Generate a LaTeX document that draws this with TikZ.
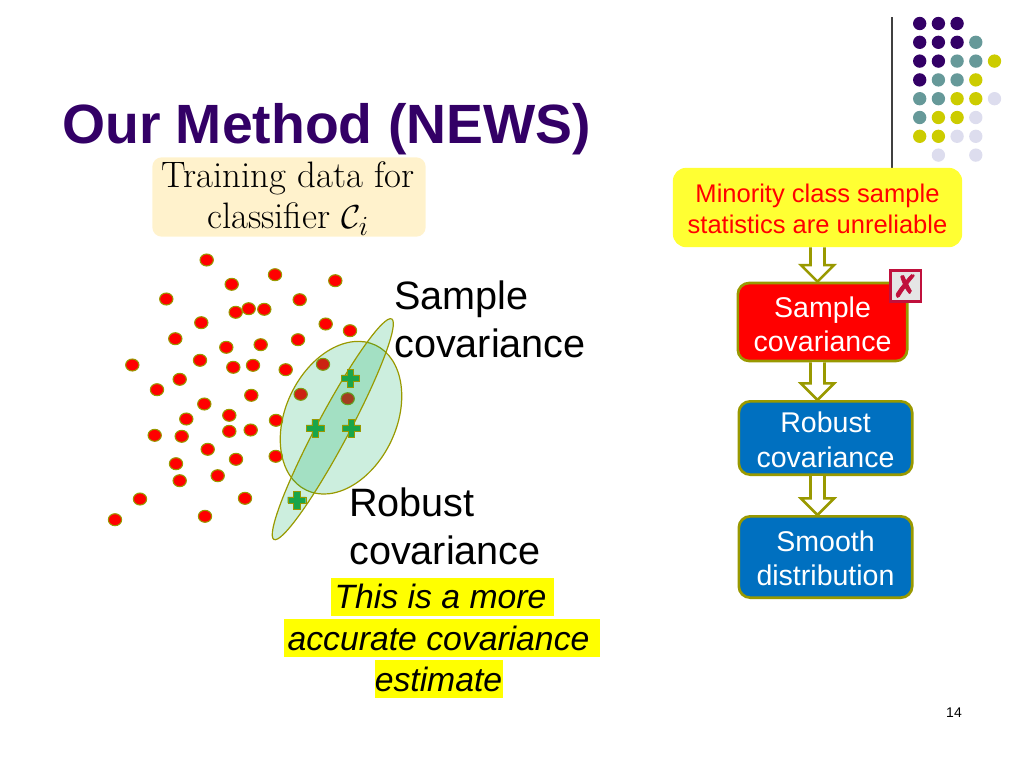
\documentclass[tikz,border=0pt]{standalone}
\usepackage{amsmath}
\usepackage{amssymb}
\usepackage{fontspec}
\setmainfont{Liberation Sans}
\newfontfamily\symbfont[FakeBold=2.5]{DejaVu Sans}
\usetikzlibrary{shapes,calc}
\usepackage{xcolor}
\definecolor{newspurple}{RGB}{51,0,102}
\definecolor{newsteal}{RGB}{102,153,153}
\definecolor{newsolive}{RGB}{204,204,0}
\definecolor{newslilac}{RGB}{221,221,238}
\definecolor{newsedge}{RGB}{153,153,0}
\definecolor{newsblue}{RGB}{0,112,192}
\definecolor{newscream}{RGB}{255,242,204}
\definecolor{newsgreen}{RGB}{0,170,90}
\definecolor{newsplus}{RGB}{25,165,75}
\definecolor{newscrimson}{RGB}{192,16,60}
\definecolor{newsyellow}{RGB}{255,255,51}
\definecolor{newsmark}{RGB}{255,255,0}
\definecolor{newsred}{RGB}{255,0,0}
\tikzset{
  spot/.style={circle,fill=#1,minimum size=10pt,inner sep=0pt},
  reddot/.style={ellipse,fill=newsred,draw=newsedge,line width=0.8pt,minimum width=10pt,minimum height=9pt,inner sep=0pt},
  covar/.style={ellipse,draw=newsedge,fill=newsgreen,fill opacity=0.2,line width=0.9pt,inner sep=0pt},
  plusmark/.style={draw=newsedge,fill=newsplus,line width=0.3pt},
  flowbox/.style={rounded corners=8.5pt,draw=newsedge,line width=2pt,text=white,align=center,font=\fontsize{21.4}{25.8}\selectfont},
  blockarrow/.style={draw=newsedge,fill=white,line width=1.9pt,
    to path={let \p1=(\tikztostart),\p2=(\tikztotarget) in
      (\x1-5.25pt,\y1) -- (\x1-5.25pt,\y2+12.4pt) -- (\x1-12.4pt,\y2+12.4pt) -- (\x1,\y2) --
      (\x1+12.4pt,\y2+12.4pt) -- (\x1+5.25pt,\y2+12.4pt) -- (\x1+5.25pt,\y1)}},
  bigtext/.style={align=left,anchor=north west,inner sep=0pt,font=\fontsize{29.7}{36}\selectfont},
  hilite/.style={fill=newsmark,inner sep=0pt,minimum height=28.5pt,font=\itshape\fontsize{25.3}{25.3}\selectfont}
}
\begin{document}
\begin{tikzpicture}[x=0.75pt,y=-0.75pt]
\useasboundingbox (0,0) rectangle (1024,768);

% Corner decoration
\draw[black!75,line width=0.9pt] (892,17) -- (892,168);
\foreach \c/\r/\shade in {
  0/0/newspurple,1/0/newspurple,2/0/newspurple,
  0/1/newspurple,1/1/newspurple,2/1/newspurple,3/1/newsteal,
  0/2/newspurple,1/2/newspurple,2/2/newsteal,3/2/newsteal,4/2/newsolive,
  0/3/newspurple,1/3/newsteal,2/3/newsteal,3/3/newsolive,
  0/4/newsteal,1/4/newsteal,2/4/newsolive,3/4/newsolive,4/4/newslilac,
  0/5/newsteal,1/5/newsolive,2/5/newsolive,3/5/newslilac,
  0/6/newsolive,1/6/newsolive,2/6/newslilac,3/6/newslilac,
  1/7/newslilac,3/7/newslilac}
  \node[spot=\shade] (spot\c\r) at (919.7+18.7*\c,23.5+18.8*\r) {};

% Title
\node[anchor=west,inner sep=0pt,text=newspurple,font=\bfseries\fontsize{41.5}{46}\selectfont] (title) at (62,129) {Our Method (NEWS)};

% Training data label
\node[fill=newscream,rounded corners=7pt,minimum width=205pt,minimum height=59.5pt,inner sep=0pt] (training) at (289,197) {};
\node[align=center,inner sep=0pt,font=\rmfamily\fontspec{Latin Modern Roman}\fontsize{27.6}{31}\selectfont] (trainingtext) at (288,198.5) {Training data for\\classifier $\mathcal{C}_i$};

% Scatter of points
\foreach \px/\py [count=\i] in {206.7/260,275/274.7,231.7/284.3,335.3/280.7,166.3/299,299.7/299.7,
  235.7/312.3,248.7/308.7,264.3/309.3,201.3/322.7,325.7/324,350/330.7,175.3/338.7,298/339.7,
  260.7/344.7,226.3/347.3,132.3/365,200/360.3,233.3/367.3,253/365.3,285.7/369.7,323/364.3,
  179.7/379.3,157/389.7,251.3/395.3,300.7/394.3,347.7/398.7,204.3/404,186.3/419,229.3/415.3,
  276/420.3,154.7/435.3,181.7/436.3,229.3/431.3,250.7/430,207.7/449.3,236/459.3,275.7/456.3,
  176/463.7,179.7/480.7,217.7/475.7,140/499,245/498.3,205/516.3,115/519.7}
  \node[reddot] (dot\i) at (\px,\py) {};

% Covariance ellipses
\node[covar,minimum width=120.5pt,minimum height=83pt,rotate=64.5] (samplecov) at (341,417.7) {};
\node[covar,minimum width=187.5pt,minimum height=24pt,rotate=61.9] (robustcov) at (332.8,429.2) {};

% Plus marks
\foreach \px/\py in {350.3/378,315/428,351.3/428,296.7/500}
  \draw[plusmark,shift={(\px,\py)}] (-3.2,-9) -- (3.2,-9) -- (3.2,-3.2) -- (9,-3.2) -- (9,3.2) -- (3.2,3.2)
    -- (3.2,9) -- (-3.2,9) -- (-3.2,3.2) -- (-9,3.2) -- (-9,-3.2) -- (-3.2,-3.2) -- cycle;

% Labels on the scatter
\node[bigtext] (samplelabel) at (394,281) {Sample\\covariance};
\node[bigtext] (robustlabel) at (349,488) {Robust\\covariance};
\node[hilite,minimum width=167pt] (line1) at (442.5,596.7) {This is a more\kern3pt};
\node[hilite,minimum width=237pt] (line2) at (442,638) {accurate covariance\kern5.25pt};
\node[hilite,minimum width=96pt] (line3) at (438.5,679) {estimate};

% Flow on the right
\node[fill=newsyellow,rounded corners=10pt,minimum width=217pt,minimum height=59.5pt,inner sep=0pt,text=newsred,align=center,font=\fontsize{19.15}{23.3}\selectfont,text height=39.5pt] (minority) at (817.5,207.5) {Minority class sample\\statistics are unreliable};
\node[flowbox,fill=newsred,minimum width=127pt,minimum height=58.5pt,text height=45pt] (samplebox) at (822.5,322) {Sample\\covariance};
\node[flowbox,fill=newsblue,minimum width=130pt,minimum height=55pt,text height=44pt] (robustbox) at (825.5,438) {Robust\\covariance};
\node[flowbox,fill=newsblue,minimum width=130pt,minimum height=61pt,text height=43.5pt] (smoothbox) at (825.5,557) {Smooth\\distribution};
\draw[blockarrow] (minority.south) to (samplebox.north);
\draw[blockarrow] (samplebox.south -| minority.south) to (robustbox.north);
\draw[blockarrow] (robustbox.south -| minority.south) to (smoothbox.north);

% Rejected mark
\node[draw=newscrimson,fill=black!10,line width=2pt,minimum size=23pt,inner sep=0pt,text=newscrimson,font=\symbfont\fontsize{23}{23}\selectfont] (reject) at (905.5,286) {✗};

% Page number
\node[font=\fontsize{10.5}{12}\selectfont,inner sep=0pt] (pagenum) at (954,713) {14};
\end{tikzpicture}
\end{document}
